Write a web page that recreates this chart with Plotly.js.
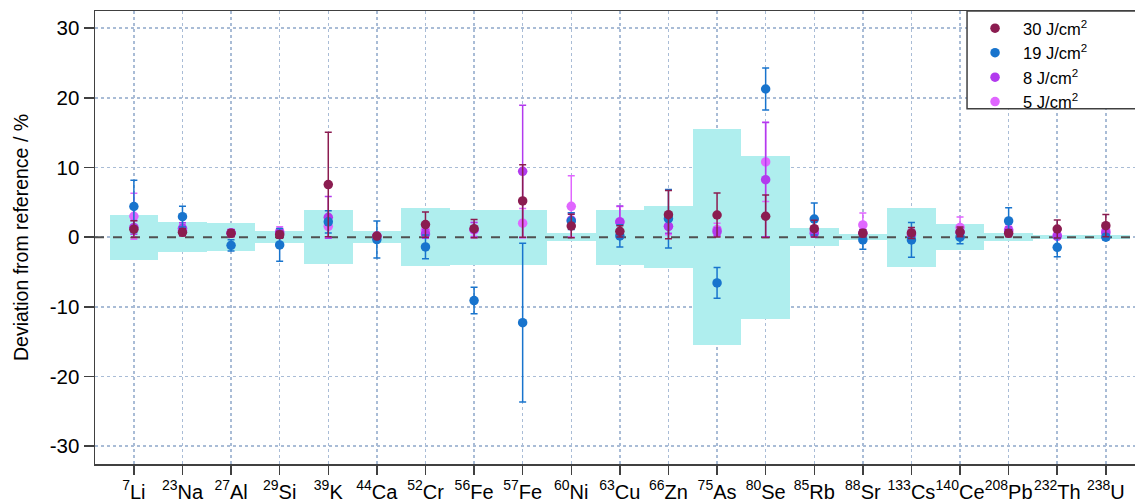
<!DOCTYPE html>
<html>
<head>
<meta charset="utf-8">
<script src="https://cdn.plot.ly/plotly-3.0.1.min.js"></script>
<style>html,body{margin:0;padding:0;background:#fff;}#chart{width:1135px;height:502px;}</style>
</head>
<body>
<div id="chart"></div>
<script>
const isotopes = ["<sup>7</sup>Li", "<sup>23</sup>Na", "<sup>27</sup>Al", "<sup>29</sup>Si", "<sup>39</sup>K", "<sup>44</sup>Ca", "<sup>52</sup>Cr", "<sup>56</sup>Fe", "<sup>57</sup>Fe", "<sup>60</sup>Ni", "<sup>63</sup>Cu", "<sup>66</sup>Zn", "<sup>75</sup>As", "<sup>80</sup>Se", "<sup>85</sup>Rb", "<sup>88</sup>Sr", "<sup>133</sup>Cs", "<sup>140</sup>Ce", "<sup>208</sup>Pb", "<sup>232</sup>Th", "<sup>238</sup>U"];

// reference uncertainty (half width of band, %)
const refUncertainty = [3.25, 2.2, 2.0, 0.9, 3.85, 0.85, 4.15, 3.95, 3.95, 0.6, 3.95, 4.4, 15.45, 11.7, 1.3, 0.4, 4.25, 1.9, 0.6, 0.25, 0.25];

const dev30 = [1.15, 0.7, 0.55, 0.35, 7.55, 0.15, 1.8, 1.22, 5.2, 1.6, 0.83, 3.23, 3.18, 3.0, 1.22, 0.55, 0.6, 0.74, 0.55, 1.17, 1.65];
const err30 = [1.2, 0.5, 0.5, 0.5, 7.5, 0.3, 1.8, 1.3, 5.2, 1.7, 0.8, 3.45, 3.15, 3.05, 1.2, 0.5, 0.8, 0.7, 0.5, 1.3, 1.6];

const dev19 = [4.4, 2.94, -1.17, -1.12, 2.2, -0.35, -1.4, -9.1, -12.27, 2.3, 0.17, 2.65, -6.57, 21.26, 2.6, -0.4, -0.4, 0.0, 2.32, -1.46, 0.0];
const err19 = [3.75, 1.5, 0.8, 2.35, 1.6, 2.65, 1.7, 1.9, 11.4, 1.2, 1.6, 4.2, 2.2, 3.0, 2.3, 1.35, 2.5, 0.95, 1.9, 1.35, 0.4];

const dev8 = [1.4, 1.27, 0.6, 0.6, 2.85, 0.1, 0.45, 1.1, 9.44, 2.45, 2.18, 1.55, 0.79, 8.25, 0.55, 0.6, 0.3, 0.7, 0.9, 0.12, 0.6];
const err8 = [1.0, 0.8, 0.5, 0.6, 3.0, 0.3, 0.6, 1.0, 9.5, 1.0, 2.3, 1.0, 0.6, 8.2, 0.5, 0.5, 0.5, 0.6, 0.6, 0.3, 0.5];

const dev5 = [3.0, 1.0, 0.6, 0.8, 1.55, 0.2, 0.93, 1.0, 2.0, 4.42, 2.2, 1.55, 1.08, 10.8, 0.9, 1.75, 0.6, 1.4, 1.1, 0.3, 0.9];
const err5 = [3.3, 0.8, 0.5, 0.7, 1.5, 0.3, 0.9, 1.1, 2.1, 4.4, 2.2, 1.2, 0.9, 5.7, 0.7, 1.7, 0.5, 1.5, 0.7, 0.3, 0.5];

const seriesNames = ["30 J/cm<sup>2</sup>", "19 J/cm<sup>2</sup>", "8 J/cm<sup>2</sup>", "5 J/cm<sup>2</sup>"];
const yTickVals = [-30, -20, -10, 0, 10, 20, 30];
const yTickText = ["-30", "-20", "-10", "0", "10", "20", "30"];

const xIdx = isotopes.map((_, i) => i);
const xRange = [-0.8, 20.6];
const FONT = "Liberation Sans, Arial, sans-serif";

const bandTrace = {
  type: "bar", x: xIdx,
  y: refUncertainty.map(v => 2 * v),
  base: refUncertainty.map(v => -v),
  width: 1,
  marker: {color: "#AFEEEE", line: {width: 0}},
  showlegend: false, hoverinfo: "skip"
};

const zeroTrace = {
  type: "scatter", mode: "lines", x: xRange, y: [0, 0],
  line: {color: "#505050", width: 2, dash: "dash"},
  showlegend: false, hoverinfo: "skip"
};

function pts(name, y, err, color) {
  return {
    type: "scatter", mode: "markers", name: name, x: xIdx, y: y,
    marker: {color: color, size: 9.5},
    error_y: {type: "data", array: err, visible: true, color: color, thickness: 1.5, width: 3.5}
  };
}

const data = [
  bandTrace, zeroTrace,
  pts(seriesNames[3], dev5, err5, "#E066FF"),
  pts(seriesNames[2], dev8, err8, "#B23AEE"),
  pts(seriesNames[1], dev19, err19, "#1874CD"),
  pts(seriesNames[0], dev30, err30, "#8B1C50")
];

const layout = {
  width: 1135, height: 502,
  margin: {l: 95, r: 0, t: 11, b: 38},
  paper_bgcolor: "#fff", plot_bgcolor: "#fff",
  font: {family: FONT, color: "#000", size: 20},
  bargap: 0,
  showlegend: true,
  legend: {
    x: 0.8385, xanchor: "left", y: 1.0, yanchor: "top",
    bgcolor: "rgba(0,0,0,0)", borderwidth: 0,
    traceorder: "reversed",
    font: {family: FONT, size: 16.5, color: "#000"},
    itemwidth: 46
  },
  shapes: [{
    type: "rect", xref: "paper", yref: "paper",
    x0: 0.8385, x1: 1.05, y0: 0.784, y1: 1.0,
    fillcolor: "#fff", line: {color: "#404040", width: 1.5}, layer: "above"
  }],
  xaxis: {
    range: xRange, tickmode: "array", tickvals: xIdx, ticktext: isotopes,
    tickangle: 0, automargin: false,
    showgrid: true, gridcolor: "#A9BCD6", griddash: "dot", gridwidth: 1.5,
    showline: true, linecolor: "#404040", linewidth: 1.5, mirror: true,
    ticks: "outside", ticklen: 9, tickwidth: 1.5, tickcolor: "#404040",
    tickfont: {family: FONT, size: 20, color: "#000"},
    zeroline: false, fixedrange: true
  },
  yaxis: {
    range: [-32.55, 32.45], tickmode: "array", tickvals: yTickVals, ticktext: yTickText,
    showgrid: true, gridcolor: "#A9BCD6", griddash: "dot", gridwidth: 1.5,
    showline: true, linecolor: "#404040", linewidth: 1.5, mirror: true,
    ticks: "outside", ticklen: 10, tickwidth: 1.5, tickcolor: "#404040",
    tickfont: {family: FONT, size: 20.5, color: "#000"},
    zeroline: false,
    title: {text: "Deviation from reference / %", font: {family: FONT, size: 19.5, color: "#000"}, standoff: 16}
  }
};

Plotly.newPlot("chart", data, layout, {displayModeBar: false, staticPlot: true});
</script>
</body>
</html>
